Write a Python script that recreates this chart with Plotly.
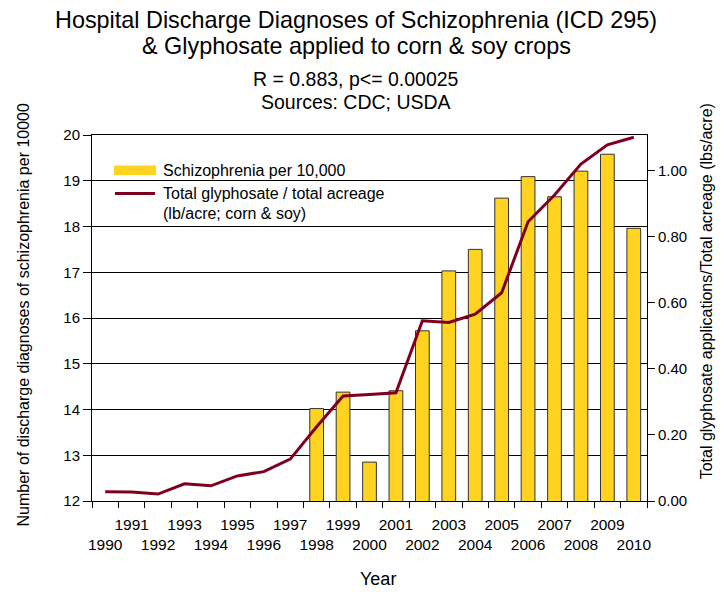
import plotly.graph_objects as go

# Data
years = list(range(1990, 2011))
schizo_years = list(range(1998, 2011))
schizo_per_10k = [14.02, 14.38, 12.85, 14.41, 15.72, 17.03, 17.50,
                  18.62, 19.09, 18.65, 19.21, 19.58, 17.96]
glyphosate_lb_acre = [0.028, 0.027, 0.021, 0.052, 0.046, 0.076, 0.089,
                      0.127, 0.225, 0.318, 0.323, 0.328, 0.546, 0.541,
                      0.566, 0.631, 0.846, 0.927, 1.021, 1.079, 1.102]
y2_ticks = [0.0, 0.2, 0.4, 0.6, 0.8, 1.0]

# odd years on the upper row, even years on the lower row
year_labels = [str(y) if y % 2 else " <br>" + str(y) for y in years]

FONT = "Liberation Sans"
BAR_COLOR = "#ffd320"
LINE_COLOR = "#7e0021"

# page has an 8px body margin, so the figure starts at (8, 8)
OFF = 8
W, H = 724 - OFF, 592 - OFF
L, T = 92 - OFF, 135 - OFF
R = W - (646.7 - OFF)
B = H - (501 - OFF)
PW, PH = W - L - R, H - T - B


def px(x):
    # page pixel -> paper coordinate
    return (x - OFF - L) / PW


def py(y):
    return (H - B - (y - OFF)) / PH


fig = go.Figure()
fig.add_trace(go.Bar(
    x=[str(y) for y in schizo_years], y=schizo_per_10k, name="Schizophrenia per 10,000",
    marker=dict(color=BAR_COLOR, line=dict(color="#333333", width=1)),
    width=0.52,
))
fig.add_trace(go.Scatter(
    x=[str(y) for y in years], y=glyphosate_lb_acre, yaxis="y2", mode="lines",
    name="Total glyphosate / total acreage", line=dict(color=LINE_COLOR, width=3),
))

# hand-drawn legend (long flat swatches like the original)
fig.add_shape(type="rect", xref="paper", yref="paper",
              x0=px(114), x1=px(156), y0=py(175), y1=py(165.5),
              fillcolor=BAR_COLOR, line=dict(width=0))
fig.add_shape(type="line", xref="paper", yref="paper",
              x0=px(115), x1=px(155), y0=py(193.5), y1=py(193.5),
              line=dict(color=LINE_COLOR, width=3))
legend_text = [("Schizophrenia per 10,000", 170.5),
               ("Total glyphosate / total acreage", 193.5),
               ("(lb/acre; corn &amp; soy)", 213.5)]
for txt, yy in legend_text:
    fig.add_annotation(text=txt, xref="paper", yref="paper", x=px(161), y=py(yy),
                       xanchor="left", yanchor="middle", showarrow=False,
                       font=dict(size=16))

# titles
titles = [("Hospital Discharge Diagnoses of Schizophrenia (ICD 295)", 20, 23.4),
          ("&amp; Glyphosate applied to corn &amp; soy crops", 46, 23.4),
          ("R = 0.883, p&lt;= 0.00025", 79, 19.5),
          ("Sources: CDC; USDA", 102, 19.5)]
for txt, yy, size in titles:
    fig.add_annotation(text=txt, xref="paper", yref="paper", x=px(356), y=py(yy),
                       xanchor="center", yanchor="middle", showarrow=False,
                       font=dict(size=size))

fig.add_annotation(text="Number of discharge diagnoses of schizophrenia per 10000",
                   xref="paper", yref="paper", x=px(24), y=py(314.5), textangle=-90,
                   xanchor="center", yanchor="middle", showarrow=False,
                   font=dict(size=16))
fig.add_annotation(text="Total glyphosate applications/Total acreage (lbs/acre)",
                   xref="paper", yref="paper", x=px(706), y=py(291), textangle=-90,
                   xanchor="center", yanchor="middle", showarrow=False,
                   font=dict(size=16))
fig.add_annotation(text="Year", xref="paper", yref="paper", x=px(378), y=py(579),
                   xanchor="center", yanchor="middle", showarrow=False,
                   borderpad=0, font=dict(size=18))

fig.update_layout(
    width=W, height=H,
    margin=dict(l=L, r=R, t=T, b=B, pad=0),
    paper_bgcolor="white", plot_bgcolor="white",
    font=dict(family=FONT, color="black", size=15),
    showlegend=False,
    xaxis=dict(
        type="category", categoryorder="array", categoryarray=[str(y) for y in years],
        tickvals=[str(y) for y in years], ticktext=year_labels, tickangle=0,
        tickson="boundaries", ticks="outside", ticklen=6, tickcolor="black",
        ticklabelstandoff=9,
        showline=True, linecolor="black", linewidth=1, mirror=True,
        showgrid=False, range=[-0.5, len(years) - 0.5],
        tickfont=dict(size=15.5),
    ),
    yaxis=dict(
        range=[12, 20], dtick=1, ticks="outside", ticklen=8, tickcolor="black",
        showline=True, linecolor="black", linewidth=1,
        showgrid=True, gridcolor="black", gridwidth=1, zeroline=False,
        tickfont=dict(size=15),
    ),
    yaxis2=dict(
        overlaying="y", side="right", range=[0, 1.109],
        tickvals=y2_ticks, tickformat=".2f", ticks="outside", ticklen=7,
        tickcolor="black", showline=True, linecolor="black", linewidth=1,
        showgrid=False, zeroline=False, tickfont=dict(size=15),
    ),
)

fig.write_html("out.html")
